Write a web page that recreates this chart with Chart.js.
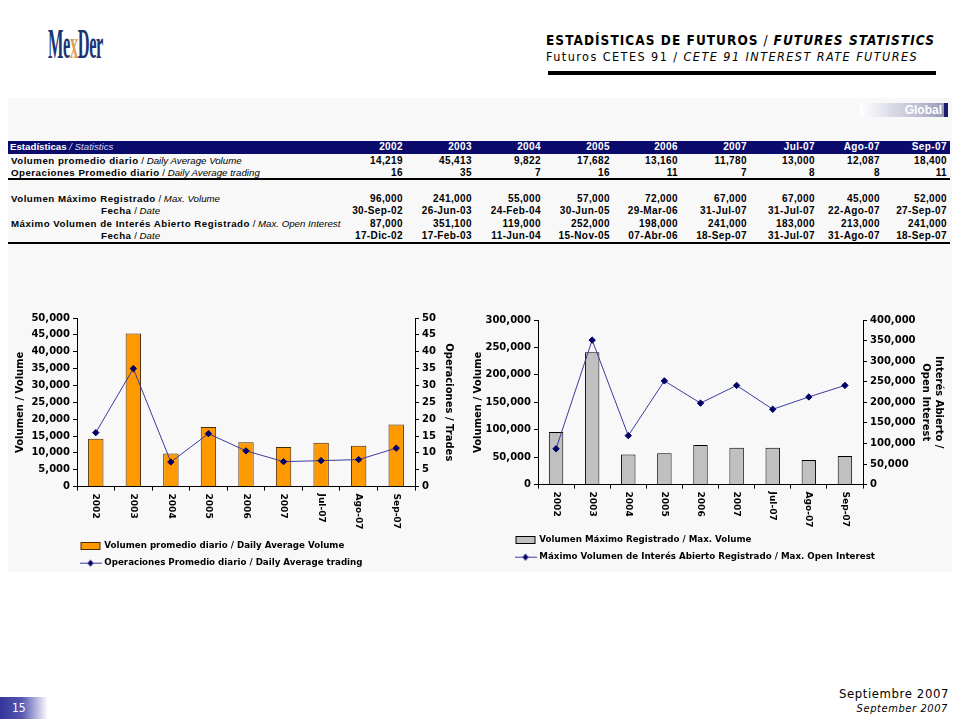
<!DOCTYPE html>
<html><head><meta charset="utf-8">
<script src="https://cdn.jsdelivr.net/npm/chart.js"></script>
<style>
html,body{margin:0;padding:0;background:#fff;}
body{width:960px;height:720px;position:relative;overflow:hidden;font-family:"DejaVu Sans",sans-serif;}
.abs{position:absolute;white-space:nowrap;}
#panel{left:8px;top:98px;width:944px;height:474px;background:#f8f8f8;}
#logo{left:48px;top:20px;font-family:"Liberation Serif",serif;font-weight:bold;font-size:42px;line-height:48px;color:#1b3473;transform:scaleX(0.39);transform-origin:left top;letter-spacing:-1px;}
#logo span{color:#d9a25b;}
#t1{left:546px;top:32px;font-family:"DejaVu Sans Condensed","DejaVu Sans",sans-serif;font-size:13.5px;letter-spacing:1.05px;color:#000;}
#t2{left:546px;top:49px;font-family:"DejaVu Sans Condensed","DejaVu Sans",sans-serif;font-size:12.5px;letter-spacing:1.45px;color:#000;}
#rule{left:548px;top:71px;width:388px;height:4px;background:#000;}
#global{left:860px;top:103px;width:88px;height:14px;background:linear-gradient(to right,#ffffff 0%,#b4b4cc 75%,#9898b8 95%,#1a1a6e 96%,#1a1a6e 100%);}
#global span{position:absolute;right:6px;top:0;line-height:14px;font-family:"Liberation Sans",Arial,sans-serif;font-weight:bold;font-size:12px;color:#fff;}
#hdr{left:8px;top:141px;width:942px;height:13px;background:#0b0b6b;}
.rule2{left:8px;width:942px;height:2px;background:#000;}
.cell{font-family:"Liberation Sans",Arial,sans-serif;font-size:10px;line-height:12px;height:12px;color:#000;text-align:right;letter-spacing:0.4px;}
.lab{font-family:"Liberation Sans",Arial,sans-serif;font-size:9.7px;line-height:12px;height:12px;color:#000;}
.lab b{letter-spacing:0.5px;}
.hcell{color:#fff;font-weight:bold;}
#f1{right:11px;top:686px;font-family:"DejaVu Sans Condensed","DejaVu Sans",sans-serif;font-size:13px;letter-spacing:0.6px;color:#000;}
#f2{right:12px;top:702px;font-family:"DejaVu Sans Condensed","DejaVu Sans",sans-serif;font-size:11px;letter-spacing:0.6px;font-style:italic;color:#000;}
#pg{left:0;top:697px;width:48px;height:22px;background:linear-gradient(to right,#34349a 0%,#5656b0 45%,#ffffff 100%);}
#pg span{position:absolute;left:12px;top:0;line-height:22px;font-family:"DejaVu Sans Condensed","DejaVu Sans",sans-serif;font-size:12px;color:#fff;}
canvas{position:absolute;}
</style></head>
<body>
<div class="abs" id="panel"></div>
<div class="abs" id="logo">Me<span>x</span>Der</div>
<div class="abs" id="t1"><b>ESTADÍSTICAS DE FUTUROS</b> / <b><i>FUTURES STATISTICS</i></b></div>
<div class="abs" id="t2">Futuros CETES 91 / <i>CETE 91 INTEREST RATE FUTURES</i></div>
<div class="abs" id="rule"></div>
<div class="abs" id="global"><span>Global</span></div>
<div class="abs" id="hdr"></div>
<div id="table"></div>
<canvas id="c1" width="453" height="277" style="left:8px;top:300px"></canvas>
<canvas id="c2" width="485" height="271" style="left:466px;top:300px"></canvas>
<div class="abs" id="f1">Septiembre 2007</div>
<div class="abs" id="f2">September 2007</div>
<div class="abs" id="pg"><span>15</span></div>
<script>
// ---------- data ----------
const categories = ['2002','2003','2004','2005','2006','2007','Jul-07','Ago-07','Sep-07'];
const avgVolume = [14219,45413,9822,17682,13160,11780,13000,12087,18400];
const avgTradesTable = [16,35,7,16,11,7,8,8,11];
const avgTrades = [16.0,35.0,7.3,15.7,10.6,7.4,7.7,8.0,11.4];
const maxVolume = [96000,241000,55000,57000,72000,67000,67000,45000,52000];
const maxVolumeDate = ['30-Sep-02','26-Jun-03','24-Feb-04','30-Jun-05','29-Mar-06','31-Jul-07','31-Jul-07','22-Ago-07','27-Sep-07'];
const maxOpenInterest = [87000,351100,119000,252000,198000,241000,183000,213000,241000];
const maxOpenInterestDate = ['17-Dic-02','17-Feb-03','11-Jun-04','15-Nov-05','07-Abr-06','18-Sep-07','31-Jul-07','31-Ago-07','18-Sep-07'];

// ---------- table ----------
const colRight = [403,472,541,610,678,747,815,880,947];
const fmt = v => v.toLocaleString('en-US');
const tbl = document.getElementById('table');
function addDiv(cls, html, style){ const d=document.createElement('div'); d.className='abs '+cls; d.innerHTML=html; Object.assign(d.style, style); tbl.appendChild(d); return d; }
addDiv('lab hcell','Estadísticas <span style="font-weight:normal;font-style:italic;color:#d6dcff">/ Statistics</span>',{left:'10px',top:'141px'});
categories.forEach((c,i)=>addDiv('cell hcell',c,{right:(960-colRight[i])+'px',top:'141px'}));
const rows = [
  {y:155, x:11, label:'<b>Volumen promedio diario</b> / <i>Daily Average Volume</i>', vals: avgVolume.map(fmt)},
  {y:166.5, x:11, label:'<b>Operaciones Promedio diario</b> / <i>Daily Average trading</i>', vals: avgTradesTable.map(String)},
  {y:192.5, x:11, label:'<b>Volumen Máximo Registrado</b> / <i>Max. Volume</i>', vals: maxVolume.map(fmt)},
  {y:205, x:101, label:'<b>Fecha</b> / <i>Date</i>', vals: maxVolumeDate},
  {y:218, x:11, label:'<b>Máximo Volumen de Interés Abierto Registrado</b> / <i>Max. Open Interest</i>', vals: maxOpenInterest.map(fmt)},
  {y:230, x:101, label:'<b>Fecha</b> / <i>Date</i>', vals: maxOpenInterestDate}
];
rows.forEach(r=>{
  addDiv('lab', r.label, {left:r.x+'px', top:r.y+'px'});
  r.vals.forEach((v,i)=>addDiv('cell','<b>'+v+'</b>',{right:(960-colRight[i])+'px',top:r.y+'px'}));
});
addDiv('rule2','',{top:'178px'});
addDiv('rule2','',{top:'242px'});

// ---------- charts ----------
Chart.defaults.font.family = '"DejaVu Sans", sans-serif';
Chart.defaults.font.weight = 'bold';
Chart.defaults.color = '#000';

function boxImg(fill, stroke){
  const c=document.createElement('canvas'); c.width=22; c.height=10;
  const g=c.getContext('2d'); g.fillStyle=fill; g.fillRect(1,1,20,8);
  g.strokeStyle=stroke; g.lineWidth=1; g.strokeRect(1.5,1.5,19,7); return c;
}
function lineImg(line, mark){
  const c=document.createElement('canvas'); c.width=22; c.height=10;
  const g=c.getContext('2d'); g.strokeStyle=line; g.lineWidth=1;
  g.beginPath(); g.moveTo(0,5.5); g.lineTo(22,5.5); g.stroke();
  g.fillStyle=mark; g.beginPath(); g.moveTo(11,2); g.lineTo(14,5.5); g.lineTo(11,9); g.lineTo(8,5.5); g.closePath(); g.fill();
  return c;
}

const vLabels = {
  id:'vLabels',
  afterDraw(chart, args, opts){
    const xs = chart.scales.x, ctx = chart.ctx;
    ctx.save();
    ctx.font = 'bold 9px "DejaVu Sans"';
    ctx.fillStyle = '#000'; ctx.textAlign='left'; ctx.textBaseline='middle';
    chart.data.labels.forEach((lab,i)=>{
      const px = xs.getPixelForValue(i);
      ctx.save(); ctx.translate(px, xs.top + opts.gap); ctx.rotate(Math.PI/2); ctx.fillText(lab,0,0); ctx.restore();
    });
    ctx.restore();
  }
};
const legendShift = {
  id:'legendShift',
  afterLayout(chart, args, opts){ const l=chart.legend; if(l){ l.left+=opts.dx; l.right+=opts.dx; } }
};

function axis(pos, min, max, step, title, width){
  return {
    position: pos, min, max,
    ticks:{stepSize:step, padding:3, color:'#000', font:{size:10, weight:'bold'}},
    grid:{drawOnChartArea:false, tickLength:4, color:'#000', tickWidth:1},
    border:{color:'#000', width:1},
    title:{display:true, text:title, color:'#000', font:{size:10, weight:'bold'}, padding:{top:6,bottom:0}},
    afterFit(s){ s.width = width; }
  };
}
function xAxis(h){
  return {
    grid:{offset:true, drawOnChartArea:false, tickLength:4, color:'#000'},
    border:{color:'#000', width:1},
    ticks:{display:false},
    afterFit(s){ s.height = h; }
  };
}
function legendOpts(imgs){
  return {
    position:'bottom', align:'start',
    labels:{
      usePointStyle:true, pointStyleWidth:19, padding:8, color:'#000',
      font:{size:8.7, weight:'bold'},
      sort:(a,b)=>a.datasetIndex-b.datasetIndex,
      generateLabels(chart){
        const items = Chart.defaults.plugins.legend.labels.generateLabels(chart);
        items.forEach(it=>{ it.pointStyle = imgs[it.datasetIndex]; });
        return items;
      }
    }
  };
}

new Chart(document.getElementById('c1'), {
  type:'bar',
  data:{labels:categories, datasets:[
    {type:'bar', label:'Volumen promedio diario / Daily Average Volume', data:avgVolume, backgroundColor:'#ff9900', borderColor:'#4a2a00', borderWidth:1, barPercentage:0.41, categoryPercentage:1, yAxisID:'y', order:2},
    {type:'line', label:'Operaciones Promedio diario / Daily Average trading', data:avgTrades, borderColor:'#3a3aa0', borderWidth:1, pointStyle:'rectRot', pointRadius:3.2, pointBackgroundColor:'#000066', pointBorderColor:'#000066', tension:0, yAxisID:'y2', order:1}
  ]},
  options:{
    responsive:false, animation:false, devicePixelRatio:1,
    layout:{padding:{top:18,left:0,right:0,bottom:0}},
    plugins:{
      legend:legendOpts([boxImg('#ff9900','#4a2a00'), lineImg('#3a3aa0','#000066')]),
      tooltip:{enabled:false},
      legendShift:{dx:65},
      vLabels:{gap:7}
    },
    scales:{
      x:xAxis(47),
      y:axis('left',0,50000,5000,'Volumen / Volume',69),
      y2:axis('right',0,50,5,'Operaciones / Trades',46)
    }
  },
  plugins:[vLabels, legendShift]
});

new Chart(document.getElementById('c2'), {
  type:'bar',
  data:{labels:categories, datasets:[
    {type:'bar', label:'Volumen Máximo Registrado / Max. Volume', data:maxVolume, backgroundColor:'#c0c0c0', borderColor:'#000', borderWidth:1, barPercentage:0.4, categoryPercentage:1, yAxisID:'y', order:2},
    {type:'line', label:'Máximo Volumen de Interés Abierto Registrado / Max. Open Interest', data:maxOpenInterest, borderColor:'#3a3aa0', borderWidth:1, pointStyle:'rectRot', pointRadius:3.2, pointBackgroundColor:'#000066', pointBorderColor:'#000066', tension:0, yAxisID:'y2', order:1}
  ]},
  options:{
    responsive:false, animation:false, devicePixelRatio:1,
    layout:{padding:{top:20,left:0,right:0,bottom:0}},
    plugins:{
      legend:legendOpts([boxImg('#c0c0c0','#000'), lineImg('#3a3aa0','#000066')]),
      tooltip:{enabled:false},
      legendShift:{dx:42},
      vLabels:{gap:7}
    },
    scales:{
      x:xAxis(43),
      y:axis('left',0,300000,50000,'Volumen / Volume',72),
      y2:(()=>{ const a=axis('right',0,400000,50000,['Interés Abierto /','Open Interest'],88); a.title.font.lineHeight=1.3; return a; })()
    }
  },
  plugins:[vLabels, legendShift]
});
</script>
</body></html>
